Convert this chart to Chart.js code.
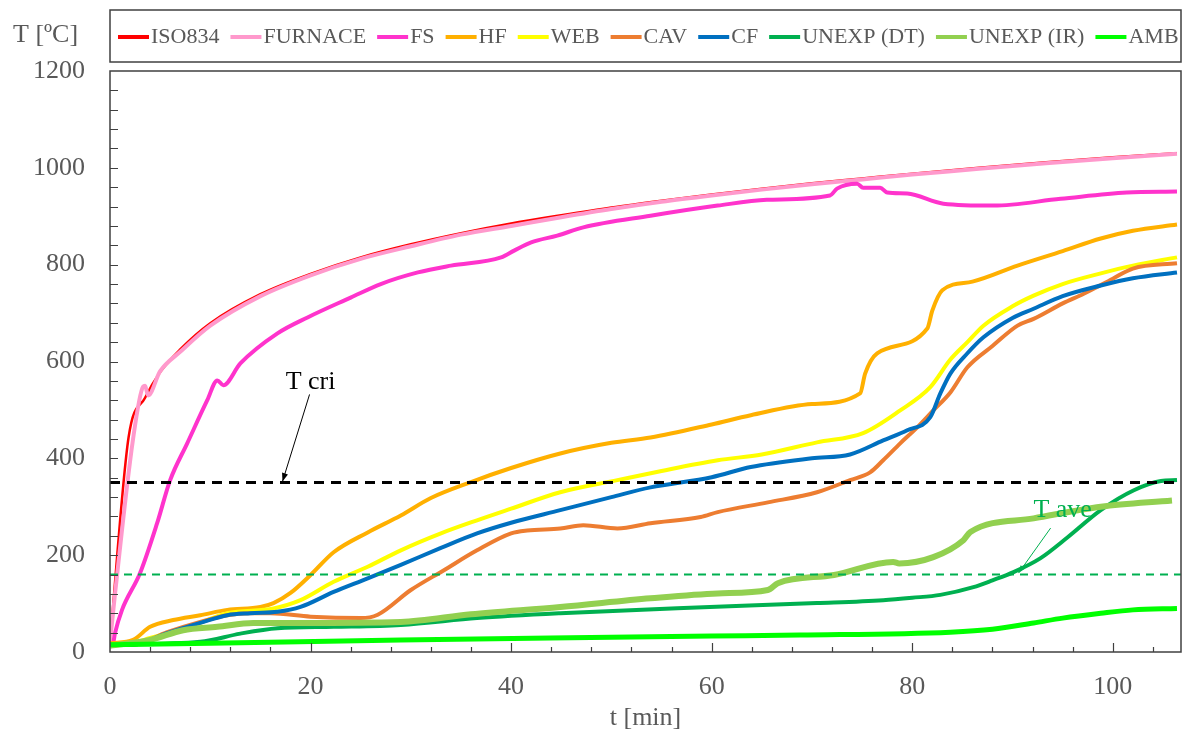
<!DOCTYPE html>
<html>
<head>
<meta charset="utf-8">
<title>T - t</title>
<script src="https://cdn.jsdelivr.net/npm/chart.js@4.4.0/dist/chart.umd.min.js"></script>
<style>
  html, body { margin: 0; padding: 0; background: #fff; }
  #wrap { width: 1184px; height: 738px; }
</style>
</head>
<body>
<div id="wrap"><canvas id="chart" width="1184" height="738"></canvas></div>
<script>
// ── Data (t in min, T in ºC) ────────────────────────────────────────────────
var isoTime  = [0, 1.85, 3.5, 5, 7, 10, 15, 20, 25, 30, 35, 40, 45, 50, 55, 60, 65, 70, 75, 80, 85, 90, 95, 100, 106.4];
var isoTemp  = [20, 443, 525, 578, 625, 679, 739, 781, 815, 842, 865, 885, 902, 918, 932, 945, 957, 968, 978, 988, 997, 1006, 1014, 1022, 1030];

var furTime  = [0, 0.5, 2.3, 3.3, 3.5, 3.8, 5, 7, 10, 15, 20, 25, 30, 35, 40, 45, 50, 55, 60, 65, 70, 75, 80, 85, 90, 95, 100, 106.4];
var furTemp  = [20, 120, 440, 548, 550, 530, 580, 620, 674, 735, 778, 812, 838, 862, 880, 898, 915, 930, 943, 955, 966, 976, 986, 995, 1004, 1012, 1020, 1029];

var fsTime   = [0, 0.3, 0.5, 1.2, 3.0, 4.7, 6.0, 7.7, 9.7, 10.7, 11.3, 13, 16.7, 19.7, 24, 27, 30.7, 34, 39, 40.3, 42, 44.6, 47.2, 53.9, 60.6, 65.5, 71.8, 72.5, 74.5, 75.1, 76.8, 77.5, 79.5, 83.1, 88.1, 94.8, 101.4, 106.4];
var fsTemp   = [15, 18, 39, 87, 163, 266, 355, 431, 520, 561, 551, 596, 658, 691, 732, 760, 784, 798, 815, 829, 846, 860, 877, 901, 922, 934, 943, 957, 967, 959, 959, 949, 947, 926, 922, 936, 949, 951];

var hfTime   = [0, 2.3, 4, 6.3, 9, 11.7, 15, 16.3, 18, 20, 22.3, 25.7, 29, 32, 36, 40, 44.9, 50, 53.9, 60, 63.9, 70, 74.8, 75.3, 76.5, 81.5, 82, 83, 86, 90.5, 95, 98.8, 102, 106.4];
var hfTemp   = [18, 25, 52, 66, 76, 87, 93, 101, 122, 159, 206, 247, 282, 318, 351, 380, 410, 432, 443, 470, 489, 512, 534, 575, 617, 668, 705, 747, 765, 798, 828, 854, 870, 883];

var webTime  = [0, 2.3, 4, 7.7, 11.7, 16.3, 19, 22.3, 25.7, 29, 33, 36.6, 40, 44.9, 50.6, 55, 60.6, 65, 70.5, 75.1, 78.8, 81.8, 83.8, 85.5, 87.1, 90, 92.1, 95, 98.8, 102, 106.4];
var webTemp  = [15, 18, 29, 50, 80, 90, 107, 145, 176, 210, 245, 272, 296, 330, 355, 374, 396, 408, 433, 452, 499, 547, 604, 640, 674, 714, 736, 760, 782, 798, 815];

var cavTime  = [0, 2.3, 5.7, 9, 11.7, 14, 16, 20, 25, 26.7, 30, 33.3, 36.6, 40, 41.6, 44.9, 47.2, 50.6, 53.9, 58.9, 60.6, 65.6, 70.5, 73.8, 75.8, 77.1, 78.8, 80.5, 82.1, 83.8, 85.5, 88, 90.5, 92.1, 95, 97.1, 100, 102, 106.4];
var cavTemp  = [15, 15, 41, 62, 76, 80, 80, 73, 70, 77, 128, 169, 210, 245, 251, 255, 262, 255, 266, 279, 289, 309, 330, 355, 371, 396, 431, 464, 499, 536, 588, 632, 674, 688, 720, 740, 771, 792, 803];

var cfTime   = [0, 2.3, 5.7, 9, 11.7, 14, 16.7, 19, 22.3, 25.7, 29, 33, 36.6, 40, 44.9, 50, 53.9, 60, 63.9, 70, 73.8, 77.1, 79.5, 81.8, 82.8, 83.8, 85.5, 87.1, 90, 92.1, 95, 98.8, 102, 106.4];
var cfTemp   = [15, 15, 39, 60, 76, 80, 83, 93, 124, 152, 180, 215, 245, 267, 293, 320, 340, 361, 382, 400, 408, 437, 458, 485, 534, 575, 617, 650, 690, 709, 735, 757, 772, 784];

var dtTime   = [0, 9, 13, 16.7, 22.3, 29, 36.6, 44.9, 57.2, 70.5, 77.1, 80, 82.8, 86.1, 88, 90.1, 92.8, 95.5, 98.8, 102.1, 104.8, 106.4];
var dtTemp   = [15, 21, 38, 49, 52, 56, 70, 80, 91, 101, 107, 112, 118, 134, 148, 165, 194, 237, 293, 334, 353, 355];

var irTime   = [0, 4, 7.3, 10.7, 14.3, 19, 29, 36, 44.9, 53.9, 60.6, 65.6, 66.6, 72.2, 78.1, 78.7, 82.1, 85.1, 85.8, 92.1, 98.8, 105.9];
var irTemp   = [13, 25, 45, 52, 60, 60, 62, 78, 93, 111, 121, 128, 142, 159, 186, 183, 196, 231, 248, 276, 300, 313];

var ambTime  = [0, 10, 29, 43.9, 60, 68.8, 83.8, 88, 92.1, 95, 98.8, 102, 106.4];
var ambTemp  = [15, 18, 25, 29, 33, 35, 41, 47, 60, 70, 80, 87, 90];

var tCri = 350;
var tAve = 160;

var timeTicks = [0, 20, 40, 60, 80, 100];
var tempTicks = [0, 200, 400, 600, 800, 1000, 1200];
var timeMax = 106.8;

// ── Helpers ─────────────────────────────────────────────────────────────────
var SERIF = '"Liberation Serif", "Times New Roman", serif';
var GREY  = '#595959';

function pts(t, v) {
    return t.map(function(x, i) { return { x: x, y: v[i] }; });
}

function series(label, t, v, color, width) {
    return {
        label: label,
        data: pts(t, v),
        borderColor: color,
        backgroundColor: color,
        borderWidth: width,
        pointRadius: 0,
        fill: false,
        cubicInterpolationMode: 'monotone'
    };
}

function hline(value, color, width, dash) {
    return {
        label: '',
        legend: false,
        data: pts([0, timeMax], [value, value]),
        borderColor: color,
        borderWidth: width,
        borderDash: dash,
        pointRadius: 0,
        fill: false,
        order: -1
    };
}

var datasets = [
    series('ISO834',      isoTime, isoTemp, '#FF0000', 2.5),
    series('FURNACE',     furTime, furTemp, '#FF99CC', 4),
    series('FS',          fsTime,  fsTemp,  '#FF33CC', 4),
    series('HF',          hfTime,  hfTemp,  '#FFB000', 4),
    series('WEB',         webTime, webTemp, '#FFFF00', 4),
    series('CAV',         cavTime, cavTemp, '#ED7D31', 4),
    series('CF',          cfTime,  cfTemp,  '#0070C0', 4),
    series('UNEXP (DT)',  dtTime,  dtTemp,  '#00B050', 4),
    series('UNEXP (IR)',  irTime,  irTemp,  '#92D050', 6),
    series('AMB',         ambTime, ambTemp, '#00FF00', 5)
];
// first series at the bottom, like the spreadsheet draws them
datasets.forEach(function(d, i) { d.order = datasets.length - i; });
datasets.push(hline(tCri, '#000000', 3, [10, 7]));
datasets.push(hline(tAve, '#00B050', 2, [8, 6]));

function arrow(ctx, x1, y1, x2, y2, color, width, head) {
    var a = Math.atan2(y2 - y1, x2 - x1);
    ctx.strokeStyle = color;
    ctx.fillStyle = color;
    ctx.lineWidth = width;
    ctx.beginPath();
    ctx.moveTo(x1, y1);
    ctx.lineTo(x2, y2);
    ctx.stroke();
    ctx.beginPath();
    ctx.moveTo(x2, y2);
    ctx.lineTo(x2 - head * Math.cos(a - 0.35), y2 - head * Math.sin(a - 0.35));
    ctx.lineTo(x2 - head * Math.cos(a + 0.35), y2 - head * Math.sin(a + 0.35));
    ctx.closePath();
    ctx.fill();
}

// ── Plugin: frame, inward ticks, boxed legend, labels ───────────────────────
var decor = {
    id: 'decor',
    afterDatasetsDraw: function(chart) {
        var ctx = chart.ctx, xs = chart.scales.x, ys = chart.scales.y;
        ctx.save();
        // T cri
        ctx.font = '26px ' + SERIF;
        ctx.fillStyle = '#000';
        ctx.textAlign = 'center';
        ctx.textBaseline = 'middle';
        ctx.fillText('T cri', xs.getPixelForValue(20), ys.getPixelForValue(557));
        arrow(ctx, xs.getPixelForValue(19.9), ys.getPixelForValue(532),
                   xs.getPixelForValue(17.2), ys.getPixelForValue(352), '#000', 1, 9);
        // T ave
        ctx.fillStyle = '#00B050';
        ctx.fillText('T ave', xs.getPixelForValue(95), ys.getPixelForValue(293));
        arrow(ctx, xs.getPixelForValue(93.8), ys.getPixelForValue(256),
                   xs.getPixelForValue(90.6), ys.getPixelForValue(163), '#00B050', 1, 8);
        ctx.restore();
    },
    afterDraw: function(chart) {
        var ctx = chart.ctx, a = chart.chartArea;
        var xs = chart.scales.x, ys = chart.scales.y;
        ctx.save();
        ctx.strokeStyle = '#404040';
        ctx.lineWidth = 1.5;
        ctx.strokeRect(a.left, a.top, a.right - a.left, a.bottom - a.top);

        // minor / major ticks pointing inside
        ctx.lineWidth = 1.2;
        ctx.beginPath();
        for (var v = 40; v < 1200; v += 40) {
            var py = Math.round(ys.getPixelForValue(v)) + 0.5;
            ctx.moveTo(a.left, py);
            ctx.lineTo(a.left + 8, py);
        }
        for (var t = 4; t < timeMax; t += 4) {
            var px = Math.round(xs.getPixelForValue(t)) + 0.5;
            ctx.moveTo(px, a.bottom);
            ctx.lineTo(px, a.bottom - (t % 20 === 0 ? 9 : 5));
        }
        ctx.stroke();

        // y title
        ctx.font = '26px ' + SERIF;
        ctx.fillStyle = GREY;
        ctx.textAlign = 'left';
        ctx.textBaseline = 'middle';
        ctx.fillText('T [ºC]', 13, 35);

        // legend box
        ctx.strokeStyle = '#404040';
        ctx.lineWidth = 1.5;
        ctx.strokeRect(a.left, 10, a.right - a.left, 52);
        ctx.font = '22px ' + SERIF;
        var x = 118, y = 37;
        chart.data.datasets.forEach(function(d) {
            if (d.legend === false) return;
            ctx.strokeStyle = d.borderColor;
            ctx.lineWidth = 4;
            ctx.beginPath();
            ctx.moveTo(x, y);
            ctx.lineTo(x + 31, y);
            ctx.stroke();
            ctx.fillStyle = GREY;
            ctx.fillText(d.label, x + 33, y);
            x += 33 + ctx.measureText(d.label).width + 11;
        });
        ctx.restore();
    }
};

// ── Chart ───────────────────────────────────────────────────────────────────
new Chart(document.getElementById('chart'), {
    type: 'line',
    data: { datasets: datasets },
    plugins: [decor],
    options: {
        responsive: false,
        animation: false,
        events: [],
        layout: { padding: { top: 71, right: 3, left: 0, bottom: 0 } },
        plugins: {
            legend: { display: false },
            tooltip: { enabled: false }
        },
        scales: {
            x: {
                type: 'linear',
                min: 0,
                max: timeMax,
                afterBuildTicks: function(axis) {
                    axis.ticks = timeTicks.map(function(v) { return { value: v }; });
                },
                afterFit: function(scale) { scale.height = 86; },
                grid: { display: false, drawTicks: false },
                border: { display: false },
                ticks: {
                    padding: 20,
                    color: GREY,
                    font: { family: SERIF, size: 26 },
                    maxRotation: 0,
                    callback: function(v) { return String(v); }
                },
                title: {
                    display: true,
                    text: 't [min]',
                    color: GREY,
                    font: { family: SERIF, size: 26 },
                    padding: { top: 0, bottom: 4 }
                }
            },
            y: {
                type: 'linear',
                min: 0,
                max: 1200,
                afterBuildTicks: function(axis) {
                    axis.ticks = tempTicks.map(function(v) { return { value: v }; });
                },
                afterFit: function(scale) { scale.width = 110; },
                grid: { display: false, drawTicks: false },
                border: { display: false },
                ticks: {
                    padding: 25,
                    color: GREY,
                    font: { family: SERIF, size: 26 },
                    callback: function(v) { return String(v); }
                }
            }
        }
    }
});
</script>
</body>
</html>
